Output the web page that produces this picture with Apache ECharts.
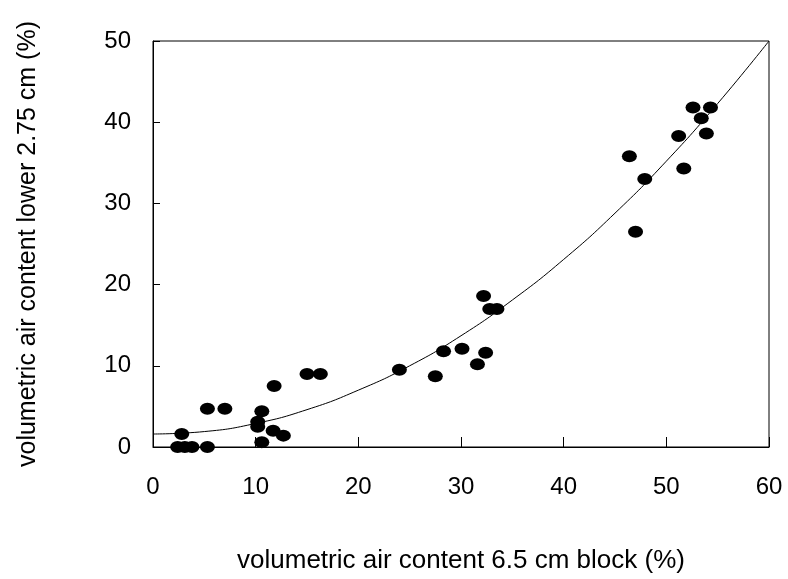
<!DOCTYPE html>
<html>
<head>
<meta charset="utf-8">
<script src="https://cdn.jsdelivr.net/npm/echarts@6/dist/echarts.min.js"></script>
<style>
  html, body { margin: 0; padding: 0; background: #fff; }
  #chart { width: 788px; height: 579px; }
</style>
</head>
<body>
<div id="chart"></div>
<script>
// measured points: block air content (x) vs lower 2.75 cm air content (y)
let blockAir = [2.4, 3.1, 3.8, 5.3, 2.8, 5.3, 7.0, 10.6, 10.2, 10.2, 10.6, 11.8, 11.7, 12.7, 15.0, 16.3,
  24.0, 27.5, 28.3, 30.1, 32.4, 31.6, 32.2, 32.8, 33.5,
  52.6, 54.3, 53.4, 51.2, 53.9, 46.4, 51.7, 47.9, 47.0]
let lowerAir = [0, 0, 0, 0, 1.6, 4.7, 4.7, 4.4, 3.1, 2.5, 0.6, 7.5, 2.0, 1.4, 9.0, 9.0,
  9.5, 8.7, 11.8, 12.1, 11.6, 10.2, 18.6, 17.0, 17.0,
  41.8, 41.8, 40.5, 38.3, 38.6, 35.8, 34.3, 33.0, 26.5]

// fitted curve
let curveX = [0, 5, 10, 15, 20, 25, 30, 35, 40, 45, 50, 55, 60]
let curveY = [1.6, 1.9, 2.9, 4.6, 7.0, 10.0, 13.7, 18.1, 23.1, 28.8, 35.2, 42.3, 50]

let chart = echarts.init(document.getElementById('chart'))
let font = 'Liberation Sans, Arial, sans-serif'

chart.setOption({
  animation: false,
  grid: {
    left: 153, right: 19, top: 41, bottom: 132,
    show: true, borderColor: '#000', borderWidth: 1
  },
  xAxis: {
    type: 'value',
    min: 0, max: 60, interval: 10,
    name: 'volumetric air content 6.5 cm block (%)',
    nameLocation: 'middle',
    nameGap: 101,
    nameTextStyle: {color: '#000', fontSize: 26, fontFamily: font},
    axisLine: {show: true, lineStyle: {color: '#000', width: 1}},
    axisTick: {show: true, inside: true, length: 10, lineStyle: {color: '#000'}},
    axisLabel: {color: '#000', fontSize: 24, fontFamily: font, margin: 28},
    splitLine: {show: false}
  },
  yAxis: {
    type: 'value',
    min: 0, max: 50, interval: 10,
    name: 'volumetric air content lower 2.75 cm (%)',
    nameLocation: 'middle',
    nameGap: 112,
    nameTextStyle: {color: '#000', fontSize: 25, fontFamily: font},
    axisLine: {show: true, lineStyle: {color: '#000', width: 1}},
    axisTick: {show: true, inside: true, length: 7, lineStyle: {color: '#000'}},
    axisLabel: {color: '#000', fontSize: 24, fontFamily: font, margin: 22},
    splitLine: {show: false}
  },
  series: [
    {
      type: 'line',
      data: curveX.map((x, i) => [x, curveY[i]]),
      smooth: true,
      showSymbol: false,
      lineStyle: {color: '#000', width: 1},
      z: 1
    },
    {
      type: 'scatter',
      data: blockAir.map((x, i) => [x, lowerAir[i]]),
      symbol: 'circle',
      symbolSize: [15, 12],
      itemStyle: {color: '#000', opacity: 1},
      z: 2
    }
  ]
})
</script>
</body>
</html>
